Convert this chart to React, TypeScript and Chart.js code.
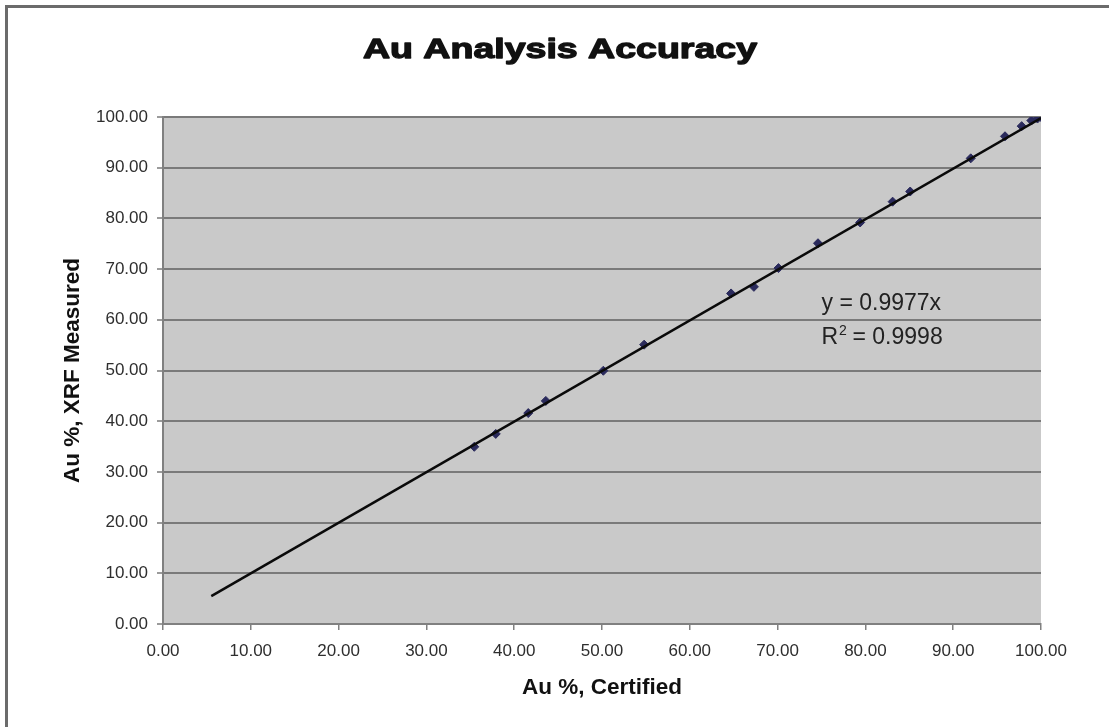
import React, { useEffect, useRef } from "react";
import { Chart, registerables } from "chart.js";

Chart.register(...registerables);

// ---- data ----
const certified = [35.45, 37.9, 41.6, 43.6, 50.15, 54.8, 64.7, 67.3, 70.1, 74.6, 79.4, 83.1, 85.1, 92.0, 95.9, 97.8, 98.9, 99.6, 100.0];
const measured = [34.95, 37.5, 41.6, 44.0, 49.95, 55.1, 65.2, 66.5, 70.2, 75.1, 79.2, 83.3, 85.3, 91.85, 96.2, 98.2, 99.3, 99.7, 100.0];
const trendX = [5.5, 100];
const trendY = [5.49, 99.77];
const axisMin = 0;
const axisMax = 100;
const axisStep = 10;
const chartTitle = "Au Analysis Accuracy";
const xTitle = "Au %, Certified";
const yTitle = "Au %, XRF Measured";
const eqText = "y = 0.9977x";
const r2Text = "0.9998";
const eqAnchor = { x: 75.0, y1: 61.9, y2: 55.2 };

const FONT = "'Liberation Sans', Arial, Helvetica, sans-serif";

const plotBg = {
  id: "plotBg",
  beforeDraw(chart: any) {
    const { ctx, chartArea } = chart;
    if (!chartArea) return;
    ctx.save();
    ctx.fillStyle = "#c9c9c9";
    ctx.fillRect(chartArea.left, chartArea.top, chartArea.right - chartArea.left, chartArea.bottom - chartArea.top);
    ctx.restore();
  },
};

const texts = {
  id: "texts",
  afterDraw(chart: any) {
    const { ctx } = chart;
    const xs = chart.scales.x;
    const ys = chart.scales.y;
    // title (wide heavy face)
    ctx.save();
    ctx.fillStyle = "#111";
    ctx.strokeStyle = "#111";
    ctx.lineWidth = 1.3;
    ctx.lineJoin = "round";
    ctx.font = `bold 28px ${FONT}`;
    ctx.textAlign = "center";
    ctx.textBaseline = "alphabetic";
    ctx.translate(560, 58);
    ctx.scale(1.34, 1);
    ctx.fillText(chartTitle, 0, 0);
    ctx.strokeText(chartTitle, 0, 0);
    ctx.restore();

    // regression equation
    ctx.save();
    ctx.fillStyle = "#222";
    ctx.textAlign = "left";
    ctx.textBaseline = "alphabetic";
    ctx.font = `23px ${FONT}`;
    const ex = xs.getPixelForValue(eqAnchor.x);
    ctx.fillText(eqText, ex, ys.getPixelForValue(eqAnchor.y1));
    const by = ys.getPixelForValue(eqAnchor.y2);
    ctx.fillText("R", ex, by);
    const rw = ctx.measureText("R").width;
    ctx.font = `14px ${FONT}`;
    ctx.fillText("2", ex + rw + 1, by - 9);
    ctx.font = `23px ${FONT}`;
    ctx.fillText(" = " + r2Text, ex + rw + 8, by);
    ctx.restore();
  },
};

export default function App() {
  const ref = useRef<HTMLCanvasElement | null>(null);

  useEffect(() => {
    if (!ref.current) return;
    const tickFont = { family: FONT, size: 17 };
    const titleFont = { family: FONT, size: 22.5, weight: "bold" as const };
    const chart = new Chart(ref.current, {
      type: "scatter",
      data: {
        datasets: [
          {
            label: "Linear",
            data: trendX.map((x, i) => ({ x, y: trendY[i] })),
            showLine: true,
            borderColor: "#0a0a0a",
            borderWidth: 2.5,
            pointRadius: 0,
            fill: false,
          },
          {
            label: "Au",
            data: certified.map((x, i) => ({ x, y: measured[i] })),
            pointStyle: "rectRot",
            pointRadius: 4.5,
            backgroundColor: "#2a2a5c",
            borderColor: "#2a2a5c",
            borderWidth: 1,
          },
        ],
      },
      options: {
        responsive: false,
        animation: false,
        layout: { padding: { left: 40, right: 68, top: 117, bottom: 0 } },
        plugins: {
          legend: { display: false },
          title: { display: false },
          tooltip: { enabled: false },
        },
        scales: {
          x: {
            type: "linear",
            min: axisMin,
            max: axisMax,
            afterFit: (s: any) => {
              s.height = 103;
            },
            ticks: {
              stepSize: axisStep,
              font: tickFont,
              color: "#2e2e2e",
              padding: 11,
              maxRotation: 0,
              callback: (v: any) => Number(v).toFixed(2),
            },
            grid: {
              drawOnChartArea: false,
              drawTicks: true,
              tickLength: 6,
              color: "#808080",
              lineWidth: 1.5,
            },
            border: { display: true, color: "#808080", width: 2 },
            title: {
              display: true,
              text: xTitle,
              font: titleFont,
              color: "#111",
              padding: { top: 0, bottom: 25.5 },
            },
          },
          y: {
            type: "linear",
            min: axisMin,
            max: axisMax,
            afterFit: (s: any) => {
              s.width = 123;
            },
            ticks: {
              stepSize: axisStep,
              font: tickFont,
              color: "#2e2e2e",
              padding: 9,
              callback: (v: any) => Number(v).toFixed(2),
            },
            grid: {
              color: "#7a7a7a",
              lineWidth: 2,
              drawTicks: true,
              tickLength: 6,
              tickColor: "#7a7a7a",
              tickWidth: 1.5,
            },
            border: { display: true, color: "#808080", width: 2 },
            title: {
              display: true,
              text: yTitle,
              font: titleFont,
              color: "#111",
              padding: { top: 19.5, bottom: 0 },
            },
          },
        },
      },
      plugins: [plotBg, texts],
    });
    return () => chart.destroy();
  }, []);

  return (
    <div
      style={{
        position: "absolute",
        left: 0,
        top: 0,
        width: 1109,
        height: 727,
        overflow: "hidden",
        background: "#fff",
      }}
    >
      <div
        style={{
          position: "absolute",
          left: 5,
          top: 5,
          width: 2000,
          height: 2000,
          borderLeft: "3px solid #6b6b6b",
          borderTop: "3px solid #6b6b6b",
        }}
      />
      <canvas
        ref={ref}
        width={1109}
        height={727}
        style={{ position: "absolute", left: 0, top: 0, width: "1109px", height: "727px" }}
      />
    </div>
  );
}
